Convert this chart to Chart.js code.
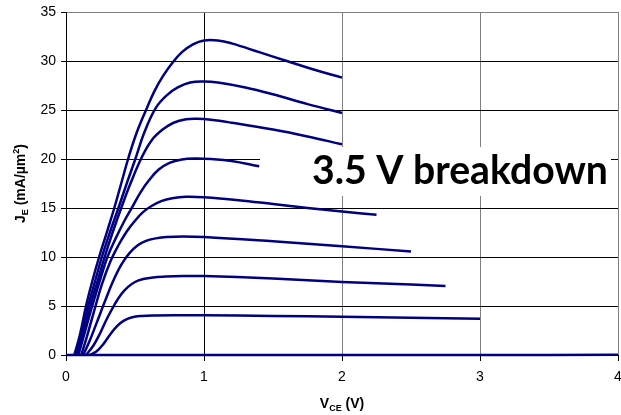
<!DOCTYPE html>
<html>
<head>
<meta charset="utf-8">
<script src="https://cdn.jsdelivr.net/npm/chart.js@4/dist/chart.umd.min.js"></script>
<style>
  html, body { margin: 0; padding: 0; background: #fff; }
  #wrap { width: 621px; height: 415px; }
</style>
</head>
<body>
<div id="wrap"><canvas id="ivChart" width="621" height="415"></canvas></div>
<script>
// emitter current density vs collector-emitter voltage, one curve per base drive
const vce0 = [0, 1, 2, 3, 4];
const je0 = [0, 0, 0, 0, 0.02];

const vce4 = [0.17, 0.22, 0.27, 0.32, 0.37, 0.42, 0.48, 0.55, 0.65, 0.8, 1.0, 1.5, 2.0, 2.5, 3.0];
const je4 = [0, 0.35, 1.1, 2.1, 2.95, 3.5, 3.85, 3.98, 4.03, 4.05, 4.05, 3.98, 3.9, 3.8, 3.7];

const vce8 = [0.145, 0.2, 0.25, 0.3, 0.35, 0.4, 0.45, 0.5, 0.56, 0.63, 0.72, 0.85, 1.0, 1.5, 2.0, 2.5, 2.75];
const je8 = [0, 1.0, 2.3, 3.8, 5.1, 6.2, 6.95, 7.45, 7.75, 7.92, 8.0, 8.05, 8.05, 7.8, 7.45, 7.2, 7.05];

const vce12 = [0.125, 0.17, 0.22, 0.28, 0.34, 0.4, 0.46, 0.52, 0.58, 0.65, 0.73, 0.85, 1.0, 1.5, 2.0, 2.5];
const je12 = [0, 1.4, 3.2, 5.4, 7.5, 9.2, 10.4, 11.2, 11.65, 11.9, 12.05, 12.1, 12.05, 11.6, 11.1, 10.55];

const vce16 = [0.11, 0.15, 0.2, 0.26, 0.32, 0.38, 0.44, 0.5, 0.56, 0.62, 0.69, 0.77, 0.87, 1.0, 1.25, 1.5, 1.75, 2.0, 2.25];
const je16 = [0, 1.8, 4.3, 7.2, 9.5, 11.2, 12.6, 13.7, 14.6, 15.2, 15.7, 16.0, 16.15, 16.1, 15.8, 15.4, 15.0, 14.65, 14.3];

const vce20 = [0.09, 0.13, 0.19, 0.25, 0.3, 0.36, 0.42, 0.48, 0.54, 0.6, 0.67, 0.75, 0.84, 0.93, 1.05, 1.2, 1.4];
const je20 = [0, 2, 5, 7.8, 10, 11.9, 13.6, 15.1, 16.6, 17.8, 18.9, 19.6, 19.95, 20.05, 20.0, 19.8, 19.25];

const vce24 = [0.08, 0.12, 0.175, 0.23, 0.28, 0.34, 0.4, 0.47, 0.55, 0.62, 0.7, 0.78, 0.87, 0.95, 1.05, 1.2, 1.5, 1.75, 2.0];
const je24 = [0, 2, 5, 7.6, 10, 12.6, 15, 17.6, 20.2, 21.9, 23.0, 23.7, 24.05, 24.1, 24.0, 23.7, 23.0, 22.3, 21.5];

const vce28 = [0.07, 0.11, 0.16, 0.21, 0.26, 0.32, 0.38, 0.44, 0.5, 0.57, 0.65, 0.73, 0.81, 0.9, 1.0, 1.1, 1.3, 1.5, 1.75, 2.0];
const je28 = [0, 2, 5, 7.5, 10, 12.6, 15, 17.5, 19.9, 22.8, 25.2, 26.5, 27.3, 27.8, 27.9, 27.8, 27.3, 26.6, 25.6, 24.7];

const vce32 = [0.06, 0.1, 0.145, 0.19, 0.24, 0.3, 0.35, 0.4, 0.45, 0.51, 0.58, 0.64, 0.7, 0.77, 0.84, 0.92, 1.0, 1.1, 1.2, 1.4, 1.6, 1.8, 2.0];
const je32 = [0, 2, 5, 7.5, 10, 12.7, 15, 17.5, 20, 22.6, 25, 26.9, 28.4, 29.8, 30.9, 31.7, 32.1, 32.1, 31.8, 30.9, 30.0, 29.1, 28.3];

const xTicks = [0, 1, 2, 3, 4];
const yTicks = [0, 5, 10, 15, 20, 25, 30, 35];
const noteText = '3.5 V breakdown';

const curves = [
  [vce0, je0], [vce4, je4], [vce8, je8], [vce12, je12], [vce16, je16],
  [vce20, je20], [vce24, je24], [vce28, je28], [vce32, je32]
];

const datasets = curves.map(function (c) {
  return {
    data: c[0].map(function (v, i) { return { x: v, y: c[1][i] }; }),
    borderColor: '#000080',
    borderWidth: 2.5,
    pointRadius: 0,
    tension: 0.4,
    clip: 4
  };
});

// axis titles with sub/superscripts plus the boxed annotation
const decorations = {
  id: 'decorations',
  afterDraw(chart) {
    const ctx = chart.ctx;
    const area = chart.chartArea;
    ctx.save();
    ctx.textBaseline = 'alphabetic';

    // white box hiding the grid behind the note
    ctx.fillStyle = '#fff';
    ctx.fillRect(260, 147, 351, 49);
    ctx.fillStyle = '#000';
    let size = 36;
    ctx.font = 'bold ' + size + 'px Lato';
    const w = ctx.measureText(noteText).width;
    size = size * 296 / w;
    ctx.font = 'bold ' + size.toFixed(2) + 'px Lato';
    ctx.textAlign = 'left';
    ctx.fillText(noteText, 312, 184);

    // x title: V_CE (V)
    const big = 'bold 14px "Liberation Sans", Arial, sans-serif';
    const small = 'bold 9px "Liberation Sans", Arial, sans-serif';
    const xParts = [['V', big, 0], ['CE', small, 3], [' (V)', big, 0]];
    drawParts(ctx, xParts, (area.left + area.right) / 2, 408);

    // y title: J_E (mA/µm²), rotated
    ctx.translate(25, (area.top + area.bottom) / 2);
    ctx.rotate(-Math.PI / 2);
    const yParts = [['J', big, 0], ['E', small, 3], [' (mA/\u00b5m', big, 0], ['2', small, -6], [')', big, 0]];
    drawParts(ctx, yParts, 0, 0);
    ctx.restore();
  }
};

function drawParts(ctx, parts, cx, baseline) {
  let total = 0;
  parts.forEach(function (p) { ctx.font = p[1]; total += ctx.measureText(p[0]).width; });
  let x = cx - total / 2;
  ctx.textAlign = 'left';
  parts.forEach(function (p) {
    ctx.font = p[1];
    ctx.fillText(p[0], x, baseline + p[2]);
    x += ctx.measureText(p[0]).width;
  });
}

new Chart(document.getElementById('ivChart'), {
  type: 'line',
  data: { datasets: datasets },
  options: {
    responsive: false,
    animation: false,
    layout: { padding: { top: 12, right: 3, left: 0, bottom: 0 } },
    plugins: {
      legend: { display: false },
      tooltip: { enabled: false }
    },
    scales: {
      x: {
        type: 'linear',
        min: 0,
        max: 4,
        afterBuildTicks(axis) { axis.ticks = xTicks.map(function (v) { return { value: v }; }); },
        afterFit(axis) {
          axis.height = 60;
          axis.paddingLeft = 0;
          axis.paddingRight = 0;
        },
        ticks: {
          padding: 8,
          color: '#000',
          font: { family: '"Liberation Sans", Arial, sans-serif', size: 14 }
        },
        grid: {
          color: function (c) { return c.tick && c.tick.value <= 1 ? '#000' : '#808080'; },
          tickColor: '#000',
          tickLength: 6
        },
        border: { color: '#000', width: 1 }
      },
      y: {
        min: 0,
        max: 35,
        afterBuildTicks(axis) { axis.ticks = yTicks.map(function (v) { return { value: v }; }); },
        afterFit(axis) {
          axis.width = 66;
          axis.paddingTop = 0;
          axis.paddingBottom = 0;
        },
        ticks: {
          padding: 5,
          color: '#000',
          font: { family: '"Liberation Sans", Arial, sans-serif', size: 14 }
        },
        grid: {
          color: function (c) { return c.tick && c.tick.value === 35 ? '#808080' : '#000'; },
          tickColor: '#000',
          tickLength: 5
        },
        border: { color: '#000', width: 1 }
      }
    }
  },
  plugins: [decorations]
});
</script>
</body>
</html>
